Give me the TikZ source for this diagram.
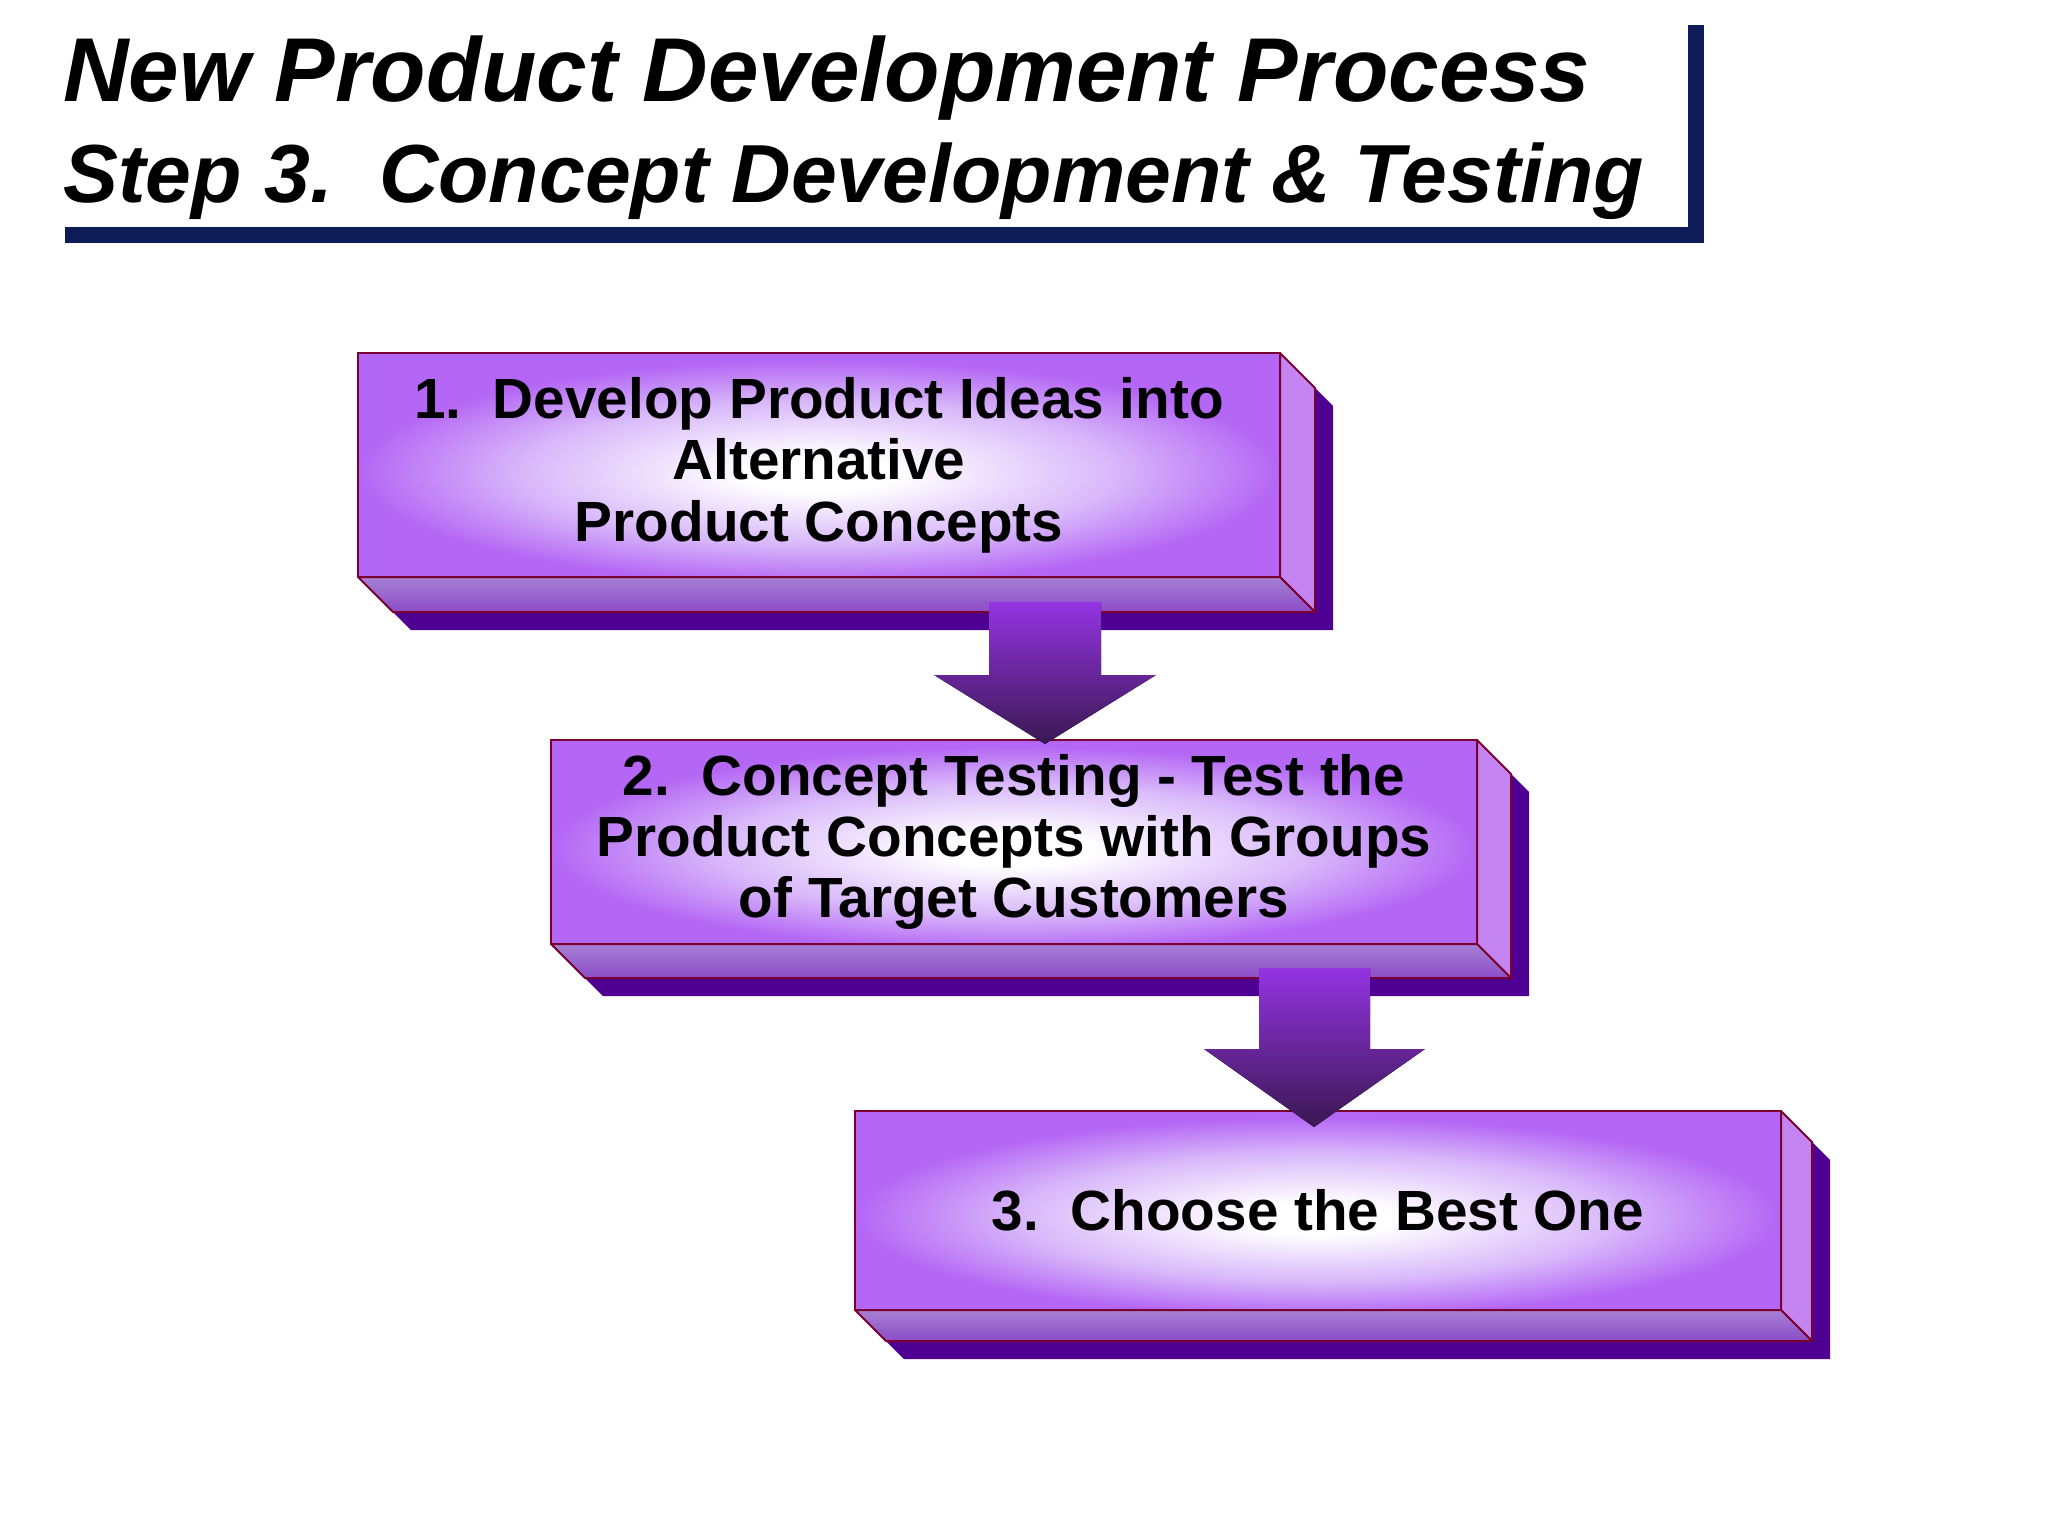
\documentclass[tikz,border=0pt]{standalone}
\usepackage{fontspec}
\setmainfont{Liberation Sans}

\definecolor{boxpurple}{HTML}{B466F4}
\definecolor{glowmid}{HTML}{D8B8FA}
\definecolor{sidepurple}{HTML}{C484F2}
\definecolor{floortop}{HTML}{A680D4}
\definecolor{floorbot}{HTML}{8C4CC8}
\definecolor{shadowpurple}{HTML}{4E0092}
\definecolor{edgered}{HTML}{7A0030}
\definecolor{arrowtop}{HTML}{9434E2}
\definecolor{arrowbot}{HTML}{3A1852}
\definecolor{titlenavy}{HTML}{0D1B57}

\pgfdeclareradialshading{boxglow}{\pgfpoint{0bp}{-2bp}}{color(0bp)=(white); color(4bp)=(white); color(16bp)=(glowmid); color(25bp)=(boxpurple); color(100bp)=(boxpurple)}

\tikzset{
  frontface/.style={draw=edgered, line width=2pt, shading=boxglow, inner sep=0pt, outer sep=0pt,
    anchor=north west, align=center, font=\bfseries\fontsize{56.7}{61.4}\selectfont},
  sideface/.style={draw=edgered, line width=2pt, fill=sidepurple, line join=round},
  floorface/.style={draw=edgered, line width=2pt, top color=floortop, bottom color=floorbot, line join=round},
  dropshadow/.style={fill=shadowpurple},
  stepdown/.style={top color=arrowtop, bottom color=arrowbot},
  titletext/.style={inner sep=0pt, anchor=base west, font=\bfseries\itshape\fontsize{90.7}{96}\selectfont},
  subtitletext/.style={inner sep=0pt, anchor=base west, font=\bfseries\itshape\fontsize{82.4}{88}\selectfont}
}

\begin{document}
\begin{tikzpicture}[x=1pt, y=-1pt]
                \useasboundingbox (0,0) rectangle (2048,1536);

                % Title frame
                \fill[titlenavy] (65,25) rectangle (1704,243);
                \fill[white] (49,9) rectangle (1688,227);
                \node[titletext] (title) at (63,102) {New Product Development Process};
                \node[subtitletext] (subtitle) at (63,202) {Step 3.\ \ Concept Development \& Testing};

                % Steps as 3D blocks
                \foreach \n/\x/\y/\w/\h/\d/\txt in {
                    1/358/353/922/224/35/{1.\ \ Develop Product Ideas into\\Alternative\\Product Concepts},
                    2/551/740/926/204/34/{2.\ \ Concept Testing - Test the\\Product Concepts with Groups\\of Target Customers},
                    3/855/1111/926/199/31/{3.\ \ Choose the Best One}}{
                    \fill[dropshadow] ({\x+18},{\y+18}) -- ++(\w,0) -- ++(\d,\d) -- ++(0,\h)
                        -- ++(-\w,0) -- ++(-\d,-\d) -- cycle;
                    \node[frontface, minimum width=\w pt, minimum height=\h pt] (step\n) at (\x,\y) {\txt};
                    \draw[sideface] (step\n.north east) -- ++(\d,\d) -- ++(0,\h) -- (step\n.south east) -- cycle;
                    \draw[floorface] (step\n.south west) -- (step\n.south east) -- ++(\d,\d) -- ++(-\w,0) -- cycle;
                }

                % Arrows between steps
                \coordinate (drop1) at (1045,602);
                \coordinate (land1) at (1045,744);
                \coordinate (drop2) at (1314,968);
                \coordinate (land2) at (1314,1127);
                \fill[stepdown] (drop1) ++(-56,0) -- ++(112,0) -- ++(0,73) -- ++(55,0) -- (land1)
                    -- ++(-111,-69) -- ++(55,0) -- cycle;
                \fill[stepdown] (drop2) ++(-55,0) -- ++(111,0) -- ++(0,81) -- ++(55,0) -- (land2)
                    -- ++(-110,-78) -- ++(55,0) -- cycle;
            \end{tikzpicture}
\end{document}
